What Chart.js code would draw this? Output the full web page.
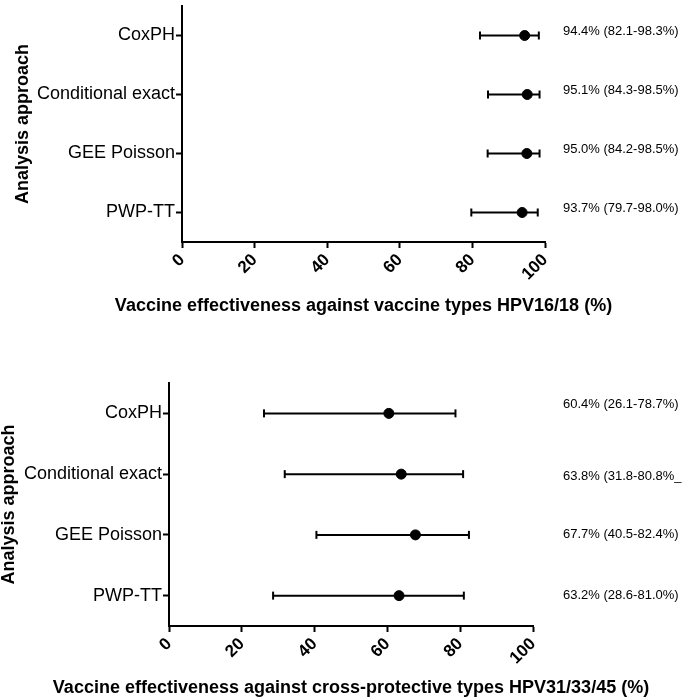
<!DOCTYPE html>
<html>
<head>
<meta charset="utf-8">
<script src="https://cdn.jsdelivr.net/npm/chart.js@4/dist/chart.umd.min.js"></script>
<style>
  body { margin: 0; background: #fff; width: 685px; height: 700px; position: relative; overflow: hidden; }
  canvas { position: absolute; left: 0; }
  #vt { top: 0; }
  #cp { top: 370px; }
</style>
</head>
<body>
<canvas id="vt" width="685" height="330"></canvas>
<canvas id="cp" width="685" height="330"></canvas>
<script>
// analysis approaches, same in both panels
const methods = ["CoxPH", "Conditional exact", "GEE Poisson", "PWP-TT"]
const xTicks = [0, 20, 40, 60, 80, 100]

// vaccine types HPV16/18
const vtEst = [94.4, 95.1, 95.0, 93.7]
const vtLow = [82.1, 84.3, 84.2, 79.7]
const vtHigh = [98.3, 98.5, 98.5, 98.0]
const vtText = ["94.4% (82.1-98.3%)", "95.1% (84.3-98.5%)", "95.0% (84.2-98.5%)", "93.7% (79.7-98.0%)"]

// cross-protective types HPV31/33/45
const cpEst = [60.4, 63.8, 67.7, 63.2]
const cpLow = [26.1, 31.8, 40.5, 28.6]
const cpHigh = [78.7, 80.8, 82.4, 81.0]
const cpText = ["60.4% (26.1-78.7%)", "63.8% (31.8-80.8%_", "67.7% (40.5-82.4%)", "63.2% (28.6-81.0%)"]

const FONT = "'Liberation Sans', Arial, sans-serif"
Chart.defaults.font.family = FONT
Chart.defaults.color = "#000"

// estimate text right of each row, plus the x title (the built-in one gets squeezed to the plot width)
const panelText = {
    id: "panelText",
    afterDraw(chart, args, opts) {
        const ctx = chart.ctx
        const area = chart.chartArea
        const yScale = chart.scales.y
        ctx.save()
        ctx.fillStyle = "#000"
        ctx.textBaseline = "middle"
        ctx.font = "13px " + FONT
        ctx.textAlign = "left"
        opts.texts.forEach((t, i) => {
            ctx.fillText(t, area.right + opts.gap, yScale.getPixelForValue(i) + opts.shift[i])
        })
        ctx.font = "bold 18px " + FONT
        ctx.textAlign = "center"
        ctx.fillText(opts.xTitle, (area.left + area.right) / 2, chart.scales.x.bottom - opts.xTitleOffset)
        ctx.restore()
    }
}

const makeDatasets = (est, low, high) => {
    const datasets = [{
        data: methods.map((m, i) => ({ x: est[i], y: m })),
        pointRadius: 5,
        pointHoverRadius: 5,
        backgroundColor: "#000",
        borderColor: "#000",
        order: 0
    }]
    for (let i = 0; i < methods.length; i++) {
        datasets.push({
            data: [{ x: low[i], y: methods[i] }, { x: high[i], y: methods[i] }],
            showLine: true,
            borderColor: "#000",
            borderWidth: 2,
            pointStyle: "line",
            pointRotation: 90,
            pointRadius: 4,
            pointBorderWidth: 2,
            pointBorderColor: "#000",
            order: 1
        })
    }
    return datasets
}

const createPanel = (id, est, low, high, texts, p) => {
    const ctx = document.getElementById(id).getContext("2d")
    return new Chart(ctx, {
        type: "scatter",
        data: { datasets: makeDatasets(est, low, high) },
        options: {
            responsive: false,
            animation: false,
            devicePixelRatio: 1,
            layout: { padding: { top: p.top, right: p.right, left: 0, bottom: 0 } },
            scales: {
                x: {
                    type: "linear",
                    min: 0,
                    max: 100,
                    afterBuildTicks: (scale) => { scale.ticks = xTicks.map(v => ({ value: v })) },
                    ticks: { minRotation: 45, maxRotation: 45, padding: 2, font: { size: 17, weight: "bold" } },
                    grid: { drawOnChartArea: false, drawTicks: true, tickLength: 6, tickWidth: 2, tickColor: "#000" },
                    border: { display: true, color: "#000", width: 2 },
                    afterFit: (scale) => { scale.height = p.xHeight; scale.paddingLeft = 0; scale.paddingRight = 0 }
                },
                y: {
                    type: "category",
                    labels: methods,
                    offset: true,
                    ticks: { padding: 1, font: { size: 18 } },
                    grid: { drawOnChartArea: false, drawTicks: true, tickLength: 6, tickWidth: 2, tickColor: "#000" },
                    border: { display: true, color: "#000", width: 2 },
                    title: { display: true, text: "Analysis approach", font: { size: 18, weight: "bold", lineHeight: 1 }, padding: { top: p.yTitlePad, bottom: 0 } },
                    afterFit: (scale) => { scale.width = p.yWidth; scale.paddingTop = 0; scale.paddingBottom = 0 }
                }
            },
            plugins: {
                legend: { display: false },
                tooltip: { enabled: false },
                panelText: { texts: texts, gap: p.gap, shift: p.shift, xTitle: p.xTitle, xTitleOffset: p.xTitleOffset }
            }
        },
        plugins: [panelText]
    })
}

createPanel("vt", vtEst, vtLow, vtHigh, vtText, {
    top: 2, right: 140, xHeight: 88, yWidth: 182, yTitlePad: 14, gap: 18, xTitleOffset: 24,
    shift: [-4, -4, -4, -4],
    xTitle: "Vaccine effectiveness against vaccine types HPV16/18 (%)"
})

createPanel("cp", cpEst, cpLow, cpHigh, cpText, {
    top: 13, right: 152, xHeight: 74, yWidth: 169, yTitlePad: 0, gap: 30, xTitleOffset: 12,
    shift: [-9, 2, 0, 0],
    xTitle: "Vaccine effectiveness against cross-protective types HPV31/33/45 (%)"
})
</script>
</body>
</html>
